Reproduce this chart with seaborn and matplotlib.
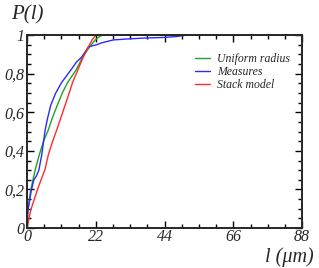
import numpy as np
import pandas as pd
import matplotlib
matplotlib.use("Agg")
import matplotlib.pyplot as plt
from matplotlib.ticker import MultipleLocator, FixedLocator, FixedFormatter
import seaborn as sns

# Curves: l in micrometres, P(l) cumulative
l_uniform = [0, 0.3, 1.2, 2.6, 3.9, 5.3, 6.8, 8.2, 9.7, 11.3, 13.0, 14.5, 15.9, 17.8,
             20.0, 21.8, 23.0, 24.0, 88]
p_uniform = [0, 0.093, 0.197, 0.30, 0.378, 0.45, 0.508, 0.575, 0.637, 0.70, 0.755, 0.79, 0.825, 0.886,
             0.938, 0.975, 0.99, 1.0, 1.0]

l_measures = [0, 0.3, 1.4, 2.2, 3.0, 3.8, 4.7, 5.8, 6.6, 7.6, 9.2, 11.1, 12.7, 14.3, 15.8,
              17.5, 19.6, 21.0, 22.3, 23.9, 27.6, 32, 38, 44, 48, 51, 88]
p_measures = [0, 0.093, 0.197, 0.25, 0.27, 0.30, 0.378, 0.508, 0.57, 0.637, 0.70, 0.755, 0.79, 0.825, 0.86,
              0.886, 0.938, 0.945, 0.95, 0.96, 0.975, 0.98, 0.985, 0.988, 0.993, 1.0, 1.0]

l_stack = [0, 1.2, 3.3, 4.5, 5.7, 6.8, 8.2, 9.5, 10.8, 12.2, 13.5, 14.6, 16.4, 18.0,
           19.6, 21.0, 22.1, 88]
p_stack = [0, 0.093, 0.197, 0.25, 0.30, 0.378, 0.45, 0.508, 0.57, 0.637, 0.70, 0.755, 0.825, 0.886,
           0.938, 0.98, 1.0, 1.0]

series_names = ["Uniform radius", "Measures", "Stack model"]
x_ticks = [0, 22, 44, 66, 88]
x_labels = ["0", "22", "44", "66", "88"]
y_ticks = [0, 0.2, 0.4, 0.6, 0.8, 1.0]
y_labels = ["0", "0,2", "0,4", "0,6", "0,8", "1"]

df = pd.concat([
    pd.DataFrame({"l": l_uniform, "P": p_uniform, "model": series_names[0]}),
    pd.DataFrame({"l": l_measures, "P": p_measures, "model": series_names[1]}),
    pd.DataFrame({"l": l_stack, "P": p_stack, "model": series_names[2]}),
], ignore_index=True)

sns.set_style("ticks")
plt.rcParams["font.family"] = ["Liberation Serif", "DejaVu Serif"]
plt.rcParams["font.style"] = "italic"

fig = plt.figure(figsize=(3.19, 2.68), dpi=100)
ax = fig.add_axes([0.0846, 0.149, 0.8624, 0.72])

palette = {"Uniform radius": "#1fa21f", "Measures": "#2a2aff", "Stack model": "#ff2a2a"}
sns.lineplot(data=df, x="l", y="P", hue="model", hue_order=series_names,
             palette=palette, sort=False, estimator=None, linewidth=1.0, ax=ax)

ax.set_xlim(0, 88)
ax.set_ylim(0, 1)
ax.xaxis.set_major_locator(FixedLocator(x_ticks))
ax.xaxis.set_major_formatter(FixedFormatter(x_labels))
ax.xaxis.set_minor_locator(MultipleLocator(5.5))
ax.yaxis.set_major_locator(FixedLocator(y_ticks))
ax.yaxis.set_major_formatter(FixedFormatter(y_labels))
ax.yaxis.set_minor_locator(MultipleLocator(0.05))
ax.tick_params(which="both", direction="in", top=True, right=True, width=1.0, color="black")
ax.tick_params(which="major", length=5, labelsize=11.5, pad=2)
ax.tick_params(axis="x", which="major", pad=1)
ax.tick_params(which="minor", length=3)
for lab in ax.get_xticklabels() + ax.get_yticklabels():
    lab.set_fontstyle("italic")
for s in ax.spines.values():
    s.set_linewidth(1.4)
    s.set_visible(True)
ax.set_xlabel("")
ax.set_ylabel("")

leg = ax.legend(loc="upper left", bbox_to_anchor=(0.58, 0.95), frameon=False,
                fontsize=8.5, handlelength=1.3, handletextpad=0.6, labelspacing=0.1,
                borderpad=0.2)
for t in leg.get_texts():
    t.set_fontstyle("italic")

fig.text(0.085, 0.945, "P(l)", fontsize=15, style="italic", ha="center", va="center")
fig.text(0.907, 0.005, "l (μm)", fontsize=14.5, style="italic", ha="center", va="bottom")

fig.savefig("out.png", dpi=100)
